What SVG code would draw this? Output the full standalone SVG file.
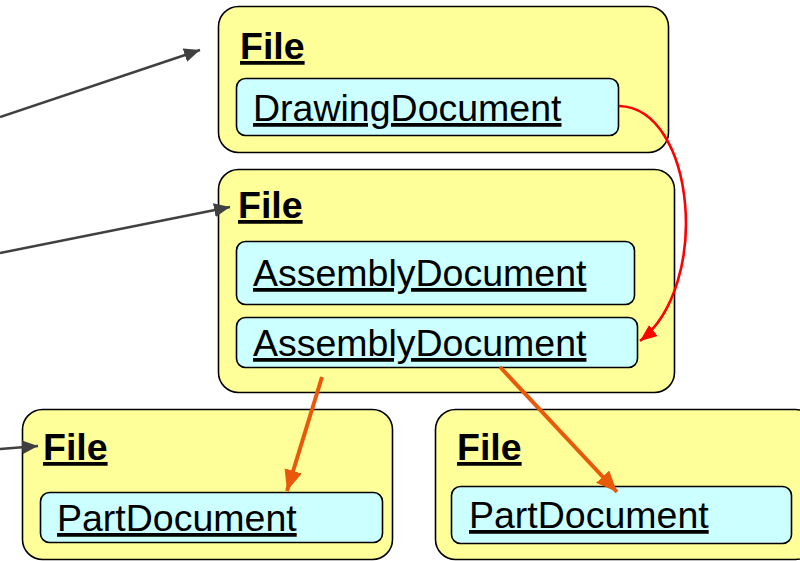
<svg xmlns="http://www.w3.org/2000/svg" width="800" height="561" viewBox="0 0 800 561">
<style>
.file{fill:#FFFF99;stroke:#000;stroke-width:1.6}
.doc{fill:#CCFFFF;stroke:#000;stroke-width:1.6}
.t{font-family:"Liberation Sans",Arial,sans-serif;font-size:37.5px;fill:#000;text-decoration:underline}
.b{font-weight:bold}
.gray{stroke:#404040;stroke-width:2.5;fill:none}
.org{stroke:#E85A0A;stroke-width:4;fill:none}
.red{stroke:#FF0000;stroke-width:2.6;fill:none}
</style>
<defs>
<marker id="ag" markerUnits="userSpaceOnUse" markerWidth="18" markerHeight="16" refX="16" refY="7" orient="auto"><path d="M0,0 L16,7 L0,14 Z" fill="#404040"/></marker>
<marker id="ao" markerUnits="userSpaceOnUse" markerWidth="22" markerHeight="20" refX="21" refY="9" orient="auto"><path d="M0,0 L21,9 L0,18 Z" fill="#E85A0A"/></marker>
<marker id="ar" markerUnits="userSpaceOnUse" markerWidth="20" markerHeight="16" refX="17" refY="7" orient="auto"><path d="M0,0 L17,7 L0,14 Z" fill="#FF0000"/></marker>
</defs>
<g id="file-drawing">
<rect class="file" x="218.5" y="6.5" width="450" height="146" rx="20"/>
<text class="t b" x="240" y="59">File</text>
<g id="drawing-doc">
<rect class="doc" x="236.5" y="78.5" width="382" height="57" rx="9"/>
<text class="t" x="253" y="121">DrawingDocument</text>
</g>
</g>
<g id="file-assembly">
<rect class="file" x="218.5" y="169.5" width="456" height="223" rx="20"/>
<text class="t b" x="238" y="218">File</text>
<g id="assembly-doc-1">
<rect class="doc" x="236.5" y="241.5" width="398" height="63" rx="9"/>
<text class="t" x="253" y="286">AssemblyDocument</text>
</g>
<g id="assembly-doc-2">
<rect class="doc" x="236.5" y="317.5" width="401" height="50" rx="9"/>
<text class="t" x="253" y="356">AssemblyDocument</text>
</g>
</g>
<g id="file-part-left">
<rect class="file" x="22.5" y="409.5" width="370" height="150" rx="20"/>
<text class="t b" x="43" y="460">File</text>
<g id="part-doc-left">
<rect class="doc" x="40.5" y="492.5" width="342" height="50" rx="9"/>
<text class="t" x="57" y="531">PartDocument</text>
</g>
</g>
<g id="file-part-right">
<rect class="file" x="435.5" y="409.5" width="380" height="150" rx="20"/>
<text class="t b" x="457" y="460">File</text>
<g id="part-doc-right">
<rect class="doc" x="451.5" y="486.5" width="340" height="57" rx="9"/>
<text class="t" x="469" y="528">PartDocument</text>
</g>
</g>
<g id="connectors">
<line class="gray" x1="0" y1="117" x2="200" y2="50" marker-end="url(#ag)"/>
<line class="gray" x1="0" y1="253" x2="230" y2="207" marker-end="url(#ag)"/>
<line class="gray" x1="0" y1="449" x2="38" y2="446" marker-end="url(#ag)"/>
<path class="red" d="M619,106 C695,108 712,285 640,341" marker-end="url(#ar)"/>
<line class="org" x1="322" y1="377" x2="287" y2="491" marker-end="url(#ao)"/>
<line class="org" x1="500" y1="367" x2="617" y2="492" marker-end="url(#ao)"/>
</g>
</svg>
